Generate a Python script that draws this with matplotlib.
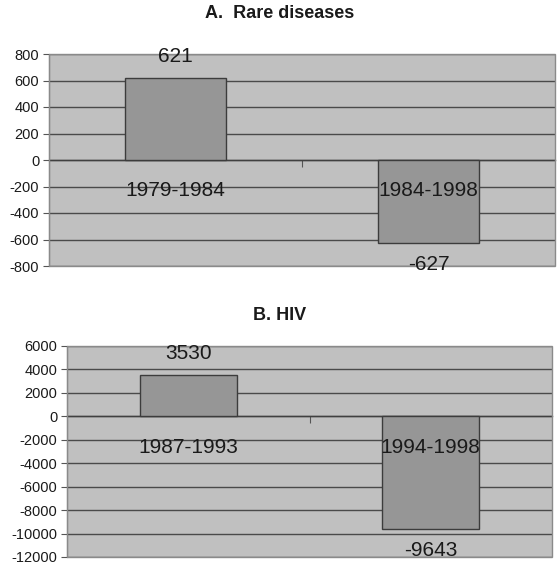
import matplotlib
matplotlib.use("Agg")
import matplotlib.pyplot as plt
from matplotlib.patches import Rectangle

plt.rcParams['font.family'] = ['Liberation Sans', 'DejaVu Sans']

# Panel A: rare diseases
a_periods = ["1979-1984", "1984-1998"]
a_values = [621, -627]
a_ticks = [800, 600, 400, 200, 0, -200, -400, -600, -800]

# Panel B: HIV
b_periods = ["1987-1993", "1994-1998"]
b_values = [3530, -9643]
b_ticks = [6000, 4000, 2000, 0, -2000, -4000, -6000, -8000, -10000, -12000]

W, H = 557, 564
fig = plt.figure(figsize=(W / 100, H / 100), dpi=100)

PLOT_BG = "#c0c0c0"
BAR = "#969696"
GRID = "#4a4a4a"


def px_axes(left, top, right, bottom):
    return fig.add_axes([left / W, 1 - bottom / H, (right - left) / W, (bottom - top) / H])


def panel(ax, periods, values, ticks):
    ax.set_facecolor(PLOT_BG)
    x = list(range(len(values)))
    ax.bar(x, values, width=0.4, color=BAR, edgecolor="#3c3c3c", linewidth=1.0, zorder=3)
    ax.set_xlim(-0.5, len(values) - 0.5)
    ax.set_ylim(min(ticks), max(ticks))
    ax.set_yticks(ticks)
    ax.set_yticklabels([str(t) for t in ticks])
    ax.yaxis.grid(True, color=GRID, linewidth=1.0, zorder=1)
    ax.tick_params(axis="y", direction="out", length=4, width=0.8, color="#555555",
                   labelsize=10.5, labelcolor="#1a1a1a", pad=3)
    # category axis crossing at zero with a tick between the categories
    ax.spines["bottom"].set_position(("data", 0))
    ax.spines["bottom"].set_color("#404040")
    ax.spines["bottom"].set_linewidth(1.0)
    ax.set_xticks([0.5])
    ax.set_xticklabels([""])
    ax.tick_params(axis="x", direction="out", length=5, width=0.8, color="#555555")
    for s in ("top", "right"):
        ax.spines[s].set_visible(False)
    ax.spines["left"].set_color("#505050")
    ax.add_patch(Rectangle((0, 0), 1, 1, transform=ax.transAxes, fill=False,
                           edgecolor="#8a8a8a", linewidth=1.0, zorder=4, clip_on=False))
    for xi, v, lab in zip(x, values, periods):
        ax.annotate(lab, (xi, 0), xytext=(0, -31), textcoords="offset pixels",
                    ha="center", va="center", fontsize=15, color="#1a1a1a", zorder=5)
        off = 21 if v > 0 else -21
        ax.annotate(str(v), (xi, v), xytext=(0, off), textcoords="offset pixels",
                    ha="center", va="center", fontsize=15, color="#1a1a1a", zorder=5)


ax_a = px_axes(49, 54, 555, 266)
panel(ax_a, a_periods, a_values, a_ticks)
fig.text(280 / W, 1 - 14 / H, "A.  Rare diseases", ha="center", va="center",
         fontsize=13, fontweight="bold", color="#1a1a1a")

ax_b = px_axes(67, 346, 552, 557)
panel(ax_b, b_periods, b_values, b_ticks)
fig.text(280 / W, 1 - 316 / H, "B. HIV", ha="center", va="center",
         fontsize=13, fontweight="bold", color="#1a1a1a")

fig.savefig("out.png", dpi=100)
